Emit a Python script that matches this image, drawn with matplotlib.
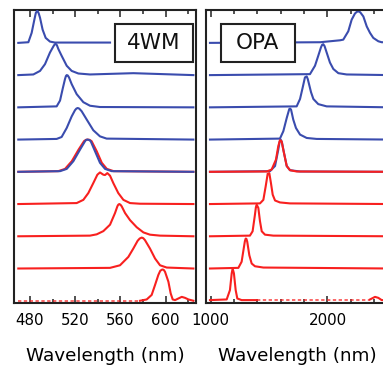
import matplotlib.pyplot as plt
from matplotlib.patches import Rectangle

BLUE = "#3a4cae"
RED = "#f8201f"
INK = "#222222"

# spectra are listed from top to bottom, intensity normalised to the peak
fwm_blue_wl = [
    [469.7, 478.6, 481.5, 483.9, 485.2, 486.5, 487.7, 488.9, 491.2, 493.9, 497.7, 502.1, 550.8],
    [469.7, 483.0, 488.9, 493.3, 497.7, 500.7, 501.8, 502.7, 503.8, 505.1, 508.0, 512.5, 516.9, 522.8, 533.1, 571.4, 624.5],
    [469.7, 503.6, 506.6, 508.9, 511.0, 511.8, 512.5, 513.4, 514.5, 516.9, 521.3, 527.2, 533.1, 541.9, 624.5],
    [469.7, 503.6, 508.0, 512.5, 516.9, 519.8, 521.0, 522.2, 523.6, 525.7, 530.2, 536.0, 541.9, 547.8, 624.5],
    [469.7, 506.6, 512.5, 518.4, 524.3, 528.7, 529.7, 530.7, 532.2, 533.7, 537.5, 541.9, 546.4, 552.3, 624.5],
]
fwm_blue_int = [
    [0, 0.02, 0.31, 0.72, 0.93, 1.0, 0.92, 0.78, 0.41, 0.155, 0.04, 0.01, 0.01],
    [0, 0.02, 0.13, 0.34, 0.70, 0.89, 0.95, 0.97, 0.93, 0.81, 0.60, 0.29, 0.13, 0.05, 0.02, 0.06, 0],
    [0, 0.03, 0.21, 0.57, 0.88, 0.97, 1.0, 0.99, 0.93, 0.72, 0.41, 0.16, 0.05, 0.01, 0],
    [0, 0.02, 0.08, 0.36, 0.72, 0.91, 0.96, 0.98, 0.96, 0.88, 0.62, 0.29, 0.10, 0.03, 0],
    [0, 0.02, 0.09, 0.33, 0.69, 0.95, 0.99, 1.0, 0.99, 0.95, 0.64, 0.28, 0.09, 0.02, 0],
]
fwm_red_wl = [
    [469.7, 505.0, 511.0, 517.0, 523.0, 527.8, 529.4, 531.0, 532.8, 534.5, 539.0, 543.5, 548.0, 554.0, 624.5],
    [469.7, 521.3, 527.2, 531.6, 536.0, 539.6, 541.9, 544.9, 546.4, 548.4, 550.8, 553.7, 558.1, 562.6, 568.5, 577.3, 624.5],
    [469.7, 533.1, 539.0, 544.9, 550.8, 555.2, 557.3, 558.1, 559.0, 560.0, 561.1, 564.1, 568.5, 574.4, 580.3, 586.1, 595.0, 624.5],
    [469.7, 550.8, 559.6, 567.0, 571.4, 575.2, 577.0, 578.8, 580.2, 581.7, 586.1, 590.6, 595.0, 600.9, 624.5],
    [577.3, 583.2, 587.6, 590.6, 593.5, 595.2, 597.0, 598.2, 599.4, 602.4, 604.4, 606.2, 608.3, 611.2, 614.2, 617.1, 620.1, 624.5],
]
fwm_red_int = [
    [0, 0.02, 0.09, 0.33, 0.69, 0.95, 0.99, 1.0, 0.99, 0.95, 0.64, 0.28, 0.09, 0.02, 0],
    [0, 0.03, 0.13, 0.34, 0.65, 0.91, 0.98, 0.91, 0.90, 0.96, 0.88, 0.65, 0.34, 0.13, 0.03, 0.01, 0],
    [0, 0.02, 0.06, 0.16, 0.36, 0.72, 0.93, 0.98, 1.0, 0.98, 0.93, 0.72, 0.50, 0.28, 0.12, 0.05, 0.02, 0],
    [0, 0.02, 0.10, 0.36, 0.62, 0.86, 0.93, 0.96, 0.94, 0.88, 0.62, 0.31, 0.10, 0.03, 0],
    [0, 0.04, 0.18, 0.49, 0.80, 0.93, 0.97, 0.96, 0.90, 0.59, 0.23, 0.04, 0.02, 0.07, 0.12, 0.09, 0.04, 0],
]
fwm_floor_wl = [469.7, 577.3]  # noisy baseline of the last 4WM trace

opa_blue_wl = [
    [994, 1937, 2107, 2135, 2178, 2207, 2235, 2250, 2264, 2280, 2307, 2336, 2364, 2392, 2435, 2464, 2540],
    [994, 1850, 1893, 1921, 1944, 1954, 1964, 1975, 1993, 2021, 2050, 2093, 2164, 2540],
    [994, 1736, 1765, 1788, 1807, 1822, 1831, 1842, 1859, 1879, 1921, 1993, 2540],
    [994, 1593, 1622, 1651, 1673, 1680, 1688, 1707, 1730, 1765, 1822, 1907, 2540],
    [994, 1508, 1551, 1579, 1590, 1599, 1610, 1622, 1651, 1679, 1765, 2540],
]
opa_blue_int = [
    [0, 0.02, 0.08, 0.10, 0.36, 0.72, 0.91, 0.96, 0.98, 0.95, 0.82, 0.51, 0.31, 0.155, 0.05, 0.02, 0.02],
    [0, 0.03, 0.29, 0.60, 0.86, 0.94, 0.96, 0.90, 0.70, 0.39, 0.19, 0.06, 0.02, 0],
    [0, 0.03, 0.26, 0.62, 0.93, 0.96, 0.88, 0.72, 0.47, 0.26, 0.10, 0.03, 0],
    [0, 0.03, 0.26, 0.67, 0.95, 0.96, 0.93, 0.62, 0.36, 0.155, 0.05, 0.02, 0],
    [0, 0.02, 0.18, 0.69, 0.93, 1.0, 0.92, 0.69, 0.18, 0.05, 0.01, 0],
]
opa_red_wl = [
    [994, 1479, 1522, 1559, 1579, 1593, 1607, 1627, 1651, 1679, 1736, 2540],
    [994, 1422, 1451, 1471, 1488, 1502, 1516, 1531, 1551, 1593, 1679, 2540],
    [994, 1336, 1359, 1379, 1387, 1394, 1408, 1422, 1437, 1465, 1536, 2540],
    [994, 1237, 1265, 1285, 1293, 1300, 1306, 1313, 1331, 1351, 1379, 1451, 2540],
    [994, 1137, 1165, 1180, 1188, 1199, 1214, 1228, 1265, 1394],
]
opa_red_int = [
    [0, 0.01, 0.07, 0.38, 0.80, 0.98, 0.95, 0.59, 0.18, 0.05, 0.01, 0],
    [0, 0.02, 0.13, 0.55, 0.94, 0.96, 0.65, 0.29, 0.11, 0.05, 0.02, 0],
    [0, 0.02, 0.155, 0.67, 0.90, 0.98, 0.88, 0.47, 0.155, 0.05, 0.02, 0],
    [0, 0.02, 0.21, 0.67, 0.85, 0.93, 0.92, 0.83, 0.41, 0.155, 0.07, 0.03, 0],
    [0.02, 0.04, 0.33, 0.85, 1.0, 0.85, 0.33, 0.07, 0.02, 0.02],
]
opa_floor_wl = [1394, 2364]  # noisy baseline of the last OPA trace
opa_tail_wl = [2364, 2407, 2435, 2464, 2540]
opa_tail_int = [0.04, 0.12, 0.09, 0.02, 0.02]

blue_offsets = [8, 7, 6, 5, 4]
red_offsets = [4, 3, 2, 1, 0]


def draw_panel(ax, blue_wl, blue_int, red_wl, red_int, blue_on_top):
    zb, zr = (3, 2) if blue_on_top else (2, 3)
    for wl, inten, off in zip(blue_wl, blue_int, blue_offsets):
        ax.plot(wl, [v + off for v in inten], color=BLUE, lw=1.5, zorder=zb,
                solid_joinstyle="round")
    for wl, inten, off in zip(red_wl, red_int, red_offsets):
        ax.plot(wl, [v + off for v in inten], color=RED, lw=1.5, zorder=zr,
                solid_joinstyle="round")


def style_axis(ax, xlim, major, minor, label, box_x, text):
    ax.set_xlim(*xlim)
    ax.set_ylim(-0.07, 9.02)
    ax.set_yticks([])
    ax.xaxis.set_major_locator(plt.MultipleLocator(major))
    ax.xaxis.set_minor_locator(plt.MultipleLocator(minor))
    ax.tick_params(axis="x", which="both", direction="in", top=True,
                   bottom=True, color=INK, width=1.1, labelsize=10.8, pad=7)
    ax.tick_params(axis="x", which="major", length=5)
    ax.tick_params(axis="x", which="minor", length=3)
    for s in ax.spines.values():
        s.set_linewidth(1.5)
        s.set_color(INK)
    ax.set_xlabel(label, fontsize=13.2, labelpad=14)
    ax.add_patch(Rectangle((box_x[0], 0.823), box_x[1] - box_x[0], 0.129,
                           transform=ax.transAxes, facecolor="white",
                           edgecolor=INK, lw=1.5, zorder=5))
    ax.text((box_x[0] + box_x[1]) / 2, 0.886, text, transform=ax.transAxes,
            ha="center", va="center", fontsize=15.5, color="#111111", zorder=6)


fig = plt.figure(figsize=(3.83, 3.71), dpi=100)
ax1 = fig.add_axes([14 / 383, 68 / 371, 182 / 383, 293 / 371])
ax2 = fig.add_axes([206 / 383, 68 / 371, 182 / 383, 293 / 371])

draw_panel(ax1, fwm_blue_wl, fwm_blue_int, fwm_red_wl, fwm_red_int, True)
ax1.plot(fwm_floor_wl, [0, 0], color=RED, lw=1.2, alpha=0.8,
         dashes=(2, 1.5), zorder=2)
style_axis(ax1, (465.9, 626.8), 40, 20, "Wavelength (nm)", (0.555, 0.984), "4WM")

draw_panel(ax2, opa_blue_wl, opa_blue_int, opa_red_wl, opa_red_int, False)
ax2.plot(opa_floor_wl, [0.02, 0.02], color=RED, lw=1.2, alpha=0.8,
         dashes=(2, 1.5), zorder=2)
ax2.plot(opa_tail_wl, opa_tail_int, color=RED, lw=1.5, zorder=3)
style_axis(ax2, (960, 2518), 1000, 200, "Wavelength (nm)", (0.081, 0.489), "OPA")

fig.savefig("out.png", dpi=100)
